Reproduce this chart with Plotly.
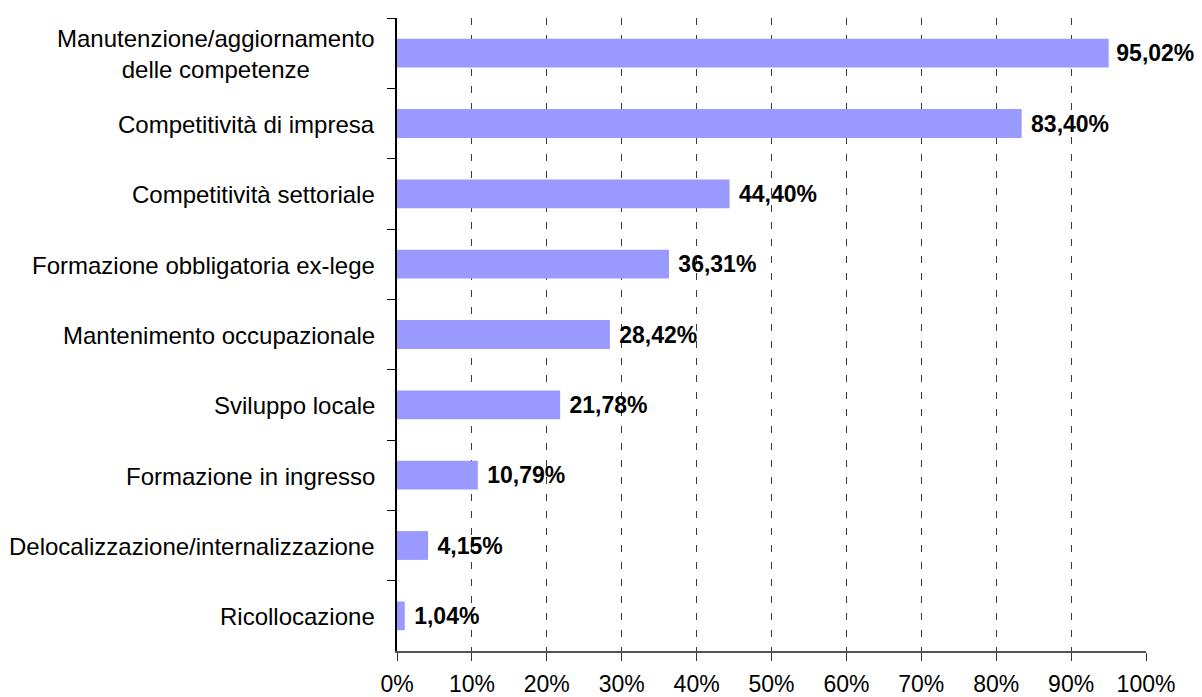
import plotly.graph_objects as go

categories = [
    "Manutenzione/aggiornamento<br>delle competenze",
    "Competitività di impresa",
    "Competitività settoriale",
    "Formazione obbligatoria ex-lege",
    "Mantenimento occupazionale",
    "Sviluppo locale",
    "Formazione in ingresso",
    "Delocalizzazione/internalizzazione",
    "Ricollocazione",
]
values = [0.9502, 0.8340, 0.4440, 0.3631, 0.2842, 0.2178, 0.1079, 0.0415, 0.0104]
x_ticks = [0, 0.1, 0.2, 0.3, 0.4, 0.5, 0.6, 0.7, 0.8, 0.9, 1.0]

FONT = "Liberation Sans, Arial, sans-serif"

# small gap before each value label; the widest bar gets a thinner gap so it stays on-page
templates = [("\u2009" if v > 0.9 else "\u00a0") + "<b>%{x:.2%}</b>" for v in values]

fig = go.Figure()
fig.add_trace(go.Bar(
    x=values,
    y=categories,
    orientation="h",
    marker=dict(color="#9999FF", line=dict(width=0)),
    width=0.41,
    texttemplate=templates,
    textposition="outside",
    textfont=dict(family=FONT, size=23, color="black"),
    constraintext="none",
    cliponaxis=False,
))

for c in categories:
    fig.add_annotation(
        x=0, xref="paper", y=c, yref="y",
        text=c, showarrow=False, xanchor="right", yanchor="middle",
        xshift=-20, yshift=-1, align="center",
        font=dict(family=FONT, size=24, color="black"),
    )

fig.update_layout(
    width=1194, height=689,
    margin=dict(l=389, r=56, t=10, b=46),
    plot_bgcolor="white", paper_bgcolor="white",
    separators=",.",
    showlegend=False,
    font=dict(family=FONT, size=23, color="black"),
)
fig.update_xaxes(
    range=[0, 1],
    tickvals=x_ticks,
    tickformat=".0%",
    showgrid=True, gridcolor="#3a3a3a", gridwidth=1, griddash="7px,10px",
    zeroline=False,
    showline=True, linecolor="#555555", linewidth=1.5,
    ticks="outside", ticklen=8, tickcolor="#333333",
    ticklabelstandoff=4,
    tickfont=dict(family=FONT, size=23, color="black"),
    automargin=False,
)
fig.update_yaxes(
    autorange="reversed",
    showticklabels=False,
    showgrid=False, zeroline=False,
    showline=True, linecolor="black", linewidth=1.5,
    ticks="outside", ticklen=8, tickcolor="black", tickson="boundaries",
    automargin=False,
)

fig.write_html("out.html")
